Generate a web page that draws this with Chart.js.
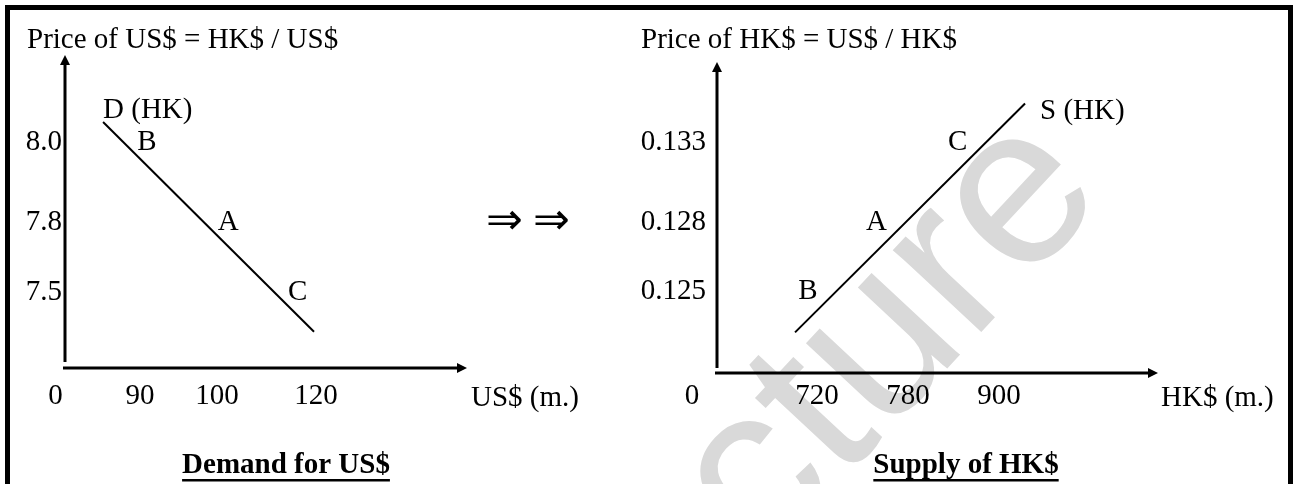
<!DOCTYPE html>
<html>
<head>
<meta charset="utf-8">
<script src="https://cdn.jsdelivr.net/npm/chart.js@4.4.1/dist/chart.umd.min.js"></script>
<style>
html, body { margin: 0; padding: 0; background: #fff; }
body { width: 1295px; height: 484px; position: relative; overflow: hidden; }
#frame { position: absolute; left: 5px; top: 5px; width: 1288px; height: 600px; box-sizing: border-box; border: 5px solid #000; }
#demand { position: absolute; left: 0; top: 0; }
#supply { position: absolute; left: 620px; top: 0; }
</style>
</head>
<body>
<div id="frame"></div>
<canvas id="demand" width="620" height="484"></canvas>
<canvas id="supply" width="675" height="484"></canvas>
<script>
// Demand for US$ (left)
const demandQtyTicks = [0, 90, 100, 120];
const demandPriceTicks = [7.5, 7.8, 8.0];
const demandPoints = ['B', 'A', 'C'];
const demandPointPrice = [8.0, 7.8, 7.5];
const demandCurveQty = [85.2, 119.6];
const demandCurvePrice = [8.05, 7.33];

// Supply of HK$ (right)
const supplyQtyTicks = [0, 720, 780, 900];
const supplyPriceTicks = [0.125, 0.128, 0.133];
const supplyPoints = ['B', 'A', 'C'];
const supplyPointPrice = [0.125, 0.128, 0.133];
const supplyCurveQty = [705.5, 934.3];
const supplyCurvePrice = [0.1232, 0.1354];

const serif = '"Liberation Serif", "Times New Roman", serif';

// diagram is not to scale: each tick sits at its own spot along the axis
class AnchoredScale extends Chart.LinearScale {
    buildTicks() {
        return this.options.anchors.map(a => ({ value: a[0] }));
    }
    getPixelForValue(value) {
        const a = this.options.anchors;
        if (this.options.broken && value === a[0][0]) return this.getPixelForDecimal(a[0][1]);
        const pts = this.options.broken ? a.slice(1) : a;
        let i = 0;
        while (i < pts.length - 2 && value > pts[i + 1][0]) i++;
        const [v0, f0] = pts[i], [v1, f1] = pts[i + 1];
        return this.getPixelForDecimal(f0 + (value - v0) * (f1 - f0) / (v1 - v0));
    }
}
AnchoredScale.id = 'anchored';
AnchoredScale.defaults = {};
Chart.register(AnchoredScale);

function diagram(spec) {
    return {
        id: 'diagram',
        beforeDraw(chart) {
            const w = spec.watermark;
            if (!w) return;
            const ctx = chart.ctx;
            ctx.save();
            ctx.fillStyle = '#d9d9d9';
            ctx.font = w.font;
            ctx.translate(w.x, w.y);
            ctx.rotate(w.angle * Math.PI / 180);
            ctx.fillText(w.text, 0, 0);
            ctx.restore();
        },
        afterDraw(chart) {
            const ctx = chart.ctx, a = chart.chartArea;
            ctx.save();
            ctx.strokeStyle = '#000';
            ctx.fillStyle = '#000';
            ctx.lineWidth = 3;
            // axes with arrow heads
            ctx.beginPath();
            ctx.moveTo(a.left, a.bottom - spec.gap);
            ctx.lineTo(a.left, a.top + 8);
            ctx.stroke();
            ctx.beginPath();
            ctx.moveTo(a.left, a.top);
            ctx.lineTo(a.left - 5, a.top + 10);
            ctx.lineTo(a.left + 5, a.top + 10);
            ctx.closePath();
            ctx.fill();
            ctx.beginPath();
            ctx.moveTo(a.left - 2, a.bottom);
            ctx.lineTo(a.right - 8, a.bottom);
            ctx.stroke();
            ctx.beginPath();
            ctx.moveTo(a.right, a.bottom);
            ctx.lineTo(a.right - 10, a.bottom - 5);
            ctx.lineTo(a.right - 10, a.bottom + 5);
            ctx.closePath();
            ctx.fill();

            ctx.font = '29px ' + serif;
            ctx.textBaseline = 'alphabetic';
            ctx.textAlign = 'left';
            ctx.fillText(spec.title, spec.titleX, 48);
            ctx.fillText(spec.unit, spec.unitX, 406);

            // point labels sit on the curve at each price level
            const meta = chart.getDatasetMeta(0);
            const p0 = meta.data[0], p1 = meta.data[1];
            const ys = chart.scales.y;
            ctx.textBaseline = 'middle';
            ctx.textAlign = spec.pointAlign;
            spec.points.forEach((name, i) => {
                const y = ys.getPixelForValue(spec.pointPrice[i]);
                const x = p0.x + (y - p0.y) * (p1.x - p0.x) / (p1.y - p0.y);
                ctx.fillText(name, x + spec.pointDx, y);
            });

            // curve name
            const end = spec.curveAtEnd ? p1 : p0;
            ctx.textAlign = 'left';
            ctx.textBaseline = 'alphabetic';
            ctx.fillText(spec.curveName, end.x + spec.curveDx, end.y + spec.curveDy);

            // underlined caption
            ctx.font = 'bold 29px ' + serif;
            ctx.textAlign = 'center';
            ctx.fillText(spec.caption, spec.captionX, 473);
            const cw = ctx.measureText(spec.caption).width;
            ctx.fillRect(spec.captionX - cw / 2, 479, cw, 2.5);

            if (spec.arrows) {
                ctx.font = '44px "DejaVu Sans"';
                ctx.textAlign = 'left';
                ctx.textBaseline = 'middle';
                spec.arrows.forEach(x => ctx.fillText('\u21D2', x, 223));
            }
            ctx.restore();
        }
    };
}

function makeChart(id, d) {
    const ctx = document.getElementById(id).getContext('2d');
    const tickFont = { family: serif, size: 29 };
    return new Chart(ctx, {
        type: 'scatter',
        data: {
            datasets: [{
                data: d.curveQty.map((q, i) => ({ x: q, y: d.curvePrice[i] })),
                showLine: true,
                borderColor: '#000',
                borderWidth: 2,
                pointRadius: 0
            }]
        },
        options: {
            responsive: false,
            animation: false,
            events: [],
            layout: { padding: { left: 0, top: d.area.top, right: d.canvasW - d.area.right, bottom: 0 } },
            plugins: { legend: { display: false }, tooltip: { enabled: false } },
            scales: {
                x: {
                    type: 'anchored',
                    position: 'bottom',
                    min: 0, max: 1000,
                    broken: true,
                    anchors: d.qtyTicks.map((v, i) => [v, d.qtyAt[i]]),
                    grid: { display: false, drawTicks: false },
                    border: { display: false },
                    ticks: {
                        font: tickFont, color: '#000', padding: d.xPad,
                        autoSkip: false, maxRotation: 0,
                        callback: v => String(v)
                    },
                    afterFit: s => { s.height = d.canvasH - d.area.bottom; }
                },
                y: {
                    type: 'anchored',
                    position: 'left',
                    min: 0, max: 1000,
                    broken: false,
                    anchors: d.priceTicks.map((v, i) => [v, d.priceAt[i]]),
                    grid: { display: false, drawTicks: false },
                    border: { display: false },
                    ticks: {
                        font: tickFont, color: '#000', padding: d.yPad,
                        autoSkip: false,
                        callback: v => v.toFixed(d.digits)
                    },
                    afterFit: s => { s.width = d.area.left; }
                }
            }
        },
        plugins: [diagram(d.spec)]
    });
}

makeChart('demand', {
    canvasW: 620, canvasH: 484,
    area: { left: 65, top: 55, right: 467, bottom: 368 },
    curveQty: demandCurveQty, curvePrice: demandCurvePrice,
    qtyTicks: demandQtyTicks, qtyAt: [-0.0236, 0.1866, 0.3781, 0.6244],
    priceTicks: demandPriceTicks, priceAt: [0.2428, 0.4665, 0.7220],
    digits: 1, xPad: 10.6, yPad: 3,
    spec: {
        gap: 6,
        title: 'Price of US$ = HK$ / US$', titleX: 27,
        unit: 'US$ (m.)', unitX: 471,
        points: demandPoints, pointPrice: demandPointPrice, pointAlign: 'left', pointDx: 14,
        curveName: 'D (HK)', curveAtEnd: false, curveDx: 0, curveDy: -4,
        caption: 'Demand for US$', captionX: 286,
        arrows: [486, 533]
    }
});

makeChart('supply', {
    canvasW: 675, canvasH: 484,
    area: { left: 97, top: 62, right: 538, bottom: 373 },
    curveQty: supplyCurveQty, curvePrice: supplyCurvePrice,
    qtyTicks: supplyQtyTicks, qtyAt: [-0.0567, 0.2268, 0.4331, 0.6395],
    priceTicks: supplyPriceTicks, priceAt: [0.2637, 0.4855, 0.7428],
    digits: 3, xPad: 5.6, yPad: 11,
    spec: {
        gap: 5,
        title: 'Price of HK$ = US$ / HK$', titleX: 21,
        unit: 'HK$ (m.)', unitX: 541,
        points: supplyPoints, pointPrice: supplyPointPrice, pointAlign: 'right', pointDx: -19,
        curveName: 'S (HK)', curveAtEnd: true, curveDx: 15, curveDy: 15,
        caption: 'Supply of HK$', captionX: 346,
        watermark: { text: 'cture', font: '228px "Liberation Sans"', x: 143, y: 566, angle: -47 }
    }
});
</script>
</body>
</html>
